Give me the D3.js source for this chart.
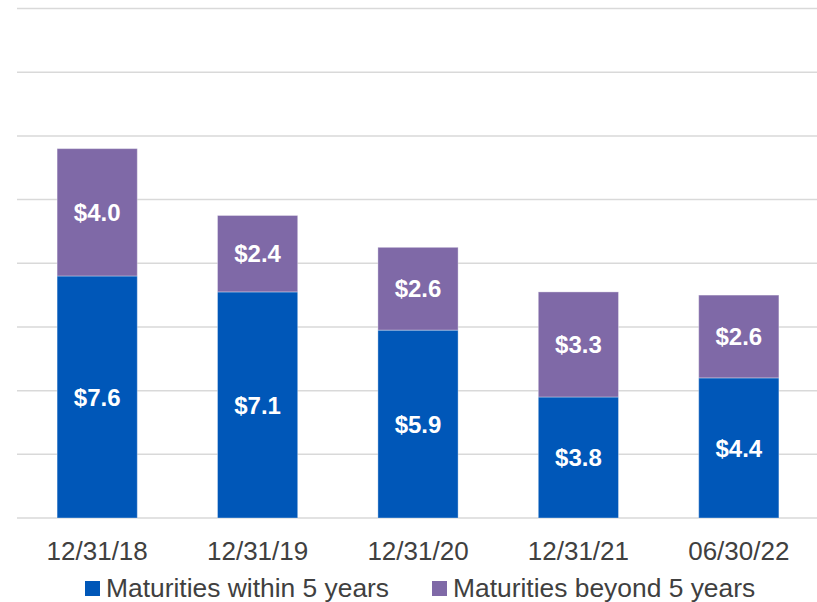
<!DOCTYPE html>
<html>
<head>
<meta charset="utf-8">
<script src="https://cdn.jsdelivr.net/npm/d3@7"></script>
<style>
  body { margin: 0; background: #fff; }
  text { font-family: Arial, "Liberation Sans", sans-serif; }
</style>
</head>
<body>
<div id="chart"></div>
<script>
// data
const categories = ["12/31/18", "12/31/19", "12/31/20", "12/31/21", "06/30/22"];
const within5 = [7.6, 7.1, 5.9, 3.8, 4.4];
const beyond5 = [4.0, 2.4, 2.6, 3.3, 2.6];
const seriesNames = ["Maturities within 5 years", "Maturities beyond 5 years"];
const gridTicks = [0, 2, 4, 6, 8, 10, 12, 14, 16];

const width = 817, height = 602;
const colors = ["#0057B8", "#7F69A7"];

const svg = d3.select("#chart")
  .append("svg")
  .attr("width", width)
  .attr("height", height);

const x = d3.scaleBand().domain(categories).range([17, 819]).paddingInner(0.5).paddingOuter(0.25);
const y = d3.scaleLinear().domain([0, 16]).range([518, 8.5]);

// gridlines
svg.append("g")
  .selectAll("line")
  .data(gridTicks)
  .join("line")
  .attr("x1", 17)
  .attr("x2", width)
  .attr("y1", d => y(d))
  .attr("y2", d => y(d))
  .attr("stroke", "#d9d9d9")
  .attr("stroke-width", 1.5);

// stack the two series
const rows = categories.map((c, i) => ({ cat: c, within: within5[i], beyond: beyond5[i] }));
const stack = d3.stack().keys(["within", "beyond"])(rows);

const layer = svg.append("g")
  .selectAll("g")
  .data(stack)
  .join("g")
  .attr("fill", (d, i) => colors[i]);

layer.selectAll("rect")
  .data(d => d)
  .join("rect")
  .attr("x", d => x(d.data.cat))
  .attr("width", x.bandwidth())
  .attr("y", d => y(d[1]))
  .attr("height", d => y(d[0]) - y(d[1]))
  .attr("stroke", "#ffffff")
  .attr("stroke-opacity", 0.35)
  .attr("stroke-width", 1);

layer.selectAll("text")
  .data(d => d)
  .join("text")
  .attr("x", d => x(d.data.cat) + x.bandwidth() / 2)
  .attr("y", d => (y(d[0]) + y(d[1])) / 2)
  .attr("dy", "0.36em")
  .attr("text-anchor", "middle")
  .attr("fill", "#fff")
  .attr("font-weight", "bold")
  .attr("font-size", 24)
  .text(d => "$" + (d[1] - d[0]).toFixed(1));

// category labels
svg.append("g")
  .selectAll("text")
  .data(categories)
  .join("text")
  .attr("x", d => x(d) + x.bandwidth() / 2)
  .attr("y", 560)
  .attr("text-anchor", "middle")
  .attr("fill", "#404040")
  .attr("font-size", 26)
  .text(d => d);

// legend
const legendX = [85, 432];
const legend = svg.append("g")
  .selectAll("g")
  .data(seriesNames)
  .join("g")
  .attr("transform", (d, i) => `translate(${legendX[i]},0)`);

legend.append("rect")
  .attr("x", 0)
  .attr("y", 581)
  .attr("width", 15)
  .attr("height", 15)
  .attr("fill", (d, i) => colors[i]);

legend.append("text")
  .attr("x", 21)
  .attr("y", 597)
  .attr("fill", "#404040")
  .attr("font-size", 26.4)
  .text(d => d);
</script>
</body>
</html>
